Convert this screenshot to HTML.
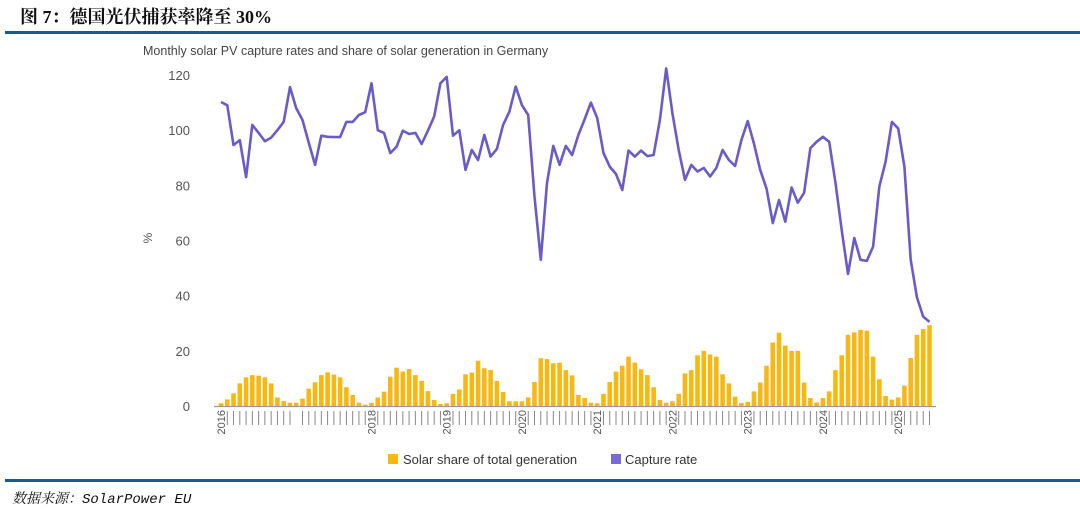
<!DOCTYPE html>
<html><head><meta charset="utf-8"><style>
body{margin:0;width:1080px;height:513px;background:#fff;overflow:hidden;position:relative;font-family:"Liberation Sans","Noto Sans CJK SC",sans-serif}
.hd{position:absolute;left:20px;top:3px;font-family:"Liberation Serif","Noto Serif CJK SC",serif;font-size:18px;font-weight:bold;color:#111}
.rule{position:absolute;left:5px;right:0;height:3px;background:#1d5a8c}
.src{position:absolute;left:12px;top:488px;font-family:"Liberation Mono","Noto Serif CJK SC",monospace;font-style:italic;font-size:14px;color:#111}
</style></head><body>
<div class="hd">图 7：德国光伏捕获率降至 30%</div>
<div class="rule" style="top:31px"></div>
<div class="rule" style="top:479px"></div>
<div class="src">数据来源：SolarPower EU</div>
<svg id="chart" width="1080" height="513" style="position:absolute;left:0;top:0"></svg>
<script>
const years=['2016','2017','2018','2019','2020','2021','2022','2023','2024','2025'];
const yTicks=[0,20,40,60,80,100,120];
const solarShare=[1,2.4,4.6,8.2,10.4,11.2,11,10.4,8.2,3.1,1.8,1.2,
1.2,2.7,6.3,8.6,11.2,12.2,11.4,10.4,6.8,4,1.2,0.5,
1.1,3.1,5.2,10.6,13.9,12.5,13.4,11.2,9.1,5.4,2.2,0.7,
1,4.4,6,11.5,12.1,16.4,13.7,13,9.1,5.1,1.7,1.7,
1.7,3.1,8.7,17.3,17,15.5,15.7,13,11.1,4,2.9,1.2,
1,4.4,8.7,12.5,14.6,17.9,15.7,13.3,11.2,6.8,2.2,1.2,
1.7,4.4,11.8,13,18.4,20,18.7,17.9,11.5,8.2,3.4,1.1,
1.5,5.3,8.5,14.6,23,26.6,21.9,20,20,8.5,2.9,1.3,
2.9,5.3,13,18.4,25.8,26.7,27.6,27.3,17.9,9.7,3.6,2.3,
3.1,7.4,17.4,25.8,27.9,29.3];
const captureRate=[110.2,109,94.6,96.4,83,101.9,99,96,97.3,100,
103,115.6,108,103.7,95.4,87.4,98,97.6,97.5,97.5,103,
103,105.5,106.5,117,100,99,91.7,94,99.8,98.6,
99,95,99.8,105,117,119.3,98,100,85.6,92.8,
89.2,98.3,90.4,93.2,101.9,106.7,115.8,109,105.5,75.9,
53,80.9,94.3,87.4,94.3,91,98.3,104,110,104.4,91.7,
86.8,84.1,78.3,92.6,90.4,92.6,90.6,91,103.7,122.4,
106.2,92.8,82,87.4,85,86.3,83.2,86.3,92.8,89.2,
87,96.4,103.3,95.2,85.6,78.9,66.3,74.7,66.8,79.2,
73.7,77.3,93.5,95.8,97.6,95.8,80.9,63.8,47.9,60.9,
53,52.6,57.8,79.5,88.6,103,100.6,86.8,53,39.3,
32.4,30.5];

const svg=document.getElementById('chart');
const NS='http://www.w3.org/2000/svg';
const x=i=>221+i*6.27;
const y=v=>406-v*(331/120);
function mk(tag,attrs,parent){const e=document.createElementNS(NS,tag);for(const k in attrs)e.setAttribute(k,attrs[k]);(parent||svg).appendChild(e);return e;}

const title=mk('text',{x:143,y:55,'font-size':12.5,fill:'#444'});
title.textContent='Monthly solar PV capture rates and share of solar generation in Germany';



yTicks.forEach(v=>{
  const t=mk('text',{x:190,y:y(v)+5,'font-size':13,fill:'#555','text-anchor':'end'});
  t.textContent=v;
  
  
});
const yt=mk('text',{x:0,y:0,'font-size':12,fill:'#555','text-anchor':'middle',transform:'translate(152,238) rotate(-90)'});
yt.textContent='%';



solarShare.forEach((v,i)=>{
  const b=mk('rect',{x:x(i)-2.3,y:y(v),width:4.6,height:406-y(v),fill:'#F8B80F'});
  
  
});

const ax=mk('line',{x1:214,x2:936,y1:406.5,y2:406.5,stroke:'#999','stroke-width':1.2});



for(let i=0;i<solarShare.length;i++){
  if(i%12===0){
    if(i===12) continue;
    const yr=years[i/12];
    const t=mk('text',{x:0,y:0,'font-size':11,fill:'#555','text-anchor':'end',transform:`translate(${x(i)+4},410) rotate(-90)`});
    t.textContent=yr;
    
    
  } else {
    const tk=mk('line',{x1:x(i),x2:x(i),y1:411,y2:425,stroke:'#888','stroke-width':1});
    
    
  }
}

const pts=captureRate.map((v,i)=>x(i).toFixed(1)+','+y(v).toFixed(1)).join(' ');
const line=mk('polyline',{points:pts,fill:'none',stroke:'#6a5cc8','stroke-width':2.6,'stroke-linejoin':'round'});



const l1=mk('rect',{x:388,y:454,width:10,height:10,fill:'#F8B80F'});


const lt1=mk('text',{x:403,y:464,'font-size':13,fill:'#333'});
lt1.textContent='Solar share of total generation';


const l2=mk('rect',{x:611,y:454,width:10,height:10,fill:'#7a6ad6'});


const lt2=mk('text',{x:625,y:464,'font-size':13,fill:'#333'});
lt2.textContent='Capture rate';


</script>
</body></html>
